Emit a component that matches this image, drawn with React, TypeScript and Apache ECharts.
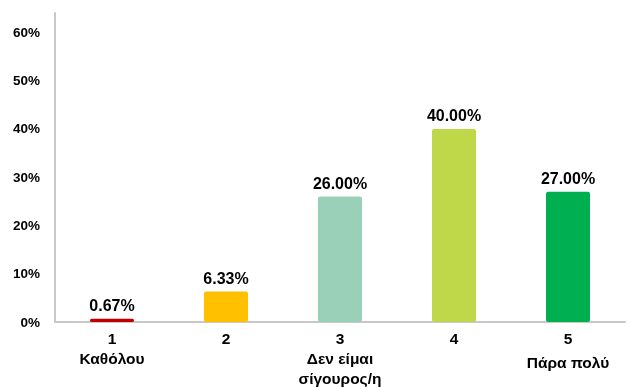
import React, { useEffect, useRef } from "react";
import * as echarts from "echarts";

const categories = ["1\nΚαθόλου", "2", "3\nΔεν είμαι\nσίγουρος/η", "4", "5\nΠάρα πολύ"];
const values = [0.0067, 0.0633, 0.26, 0.4, 0.27];
const barColors = ["#C00000", "#FFC000", "#9BD0B8", "#BFD84A", "#00B050"];
const yTicks = [0, 0.1, 0.2, 0.3, 0.4, 0.5, 0.6];

export default function App() {
  const ref = useRef<HTMLDivElement>(null);
  useEffect(() => {
    if (!ref.current) return;
    const chart = echarts.init(ref.current, undefined, { renderer: "svg" });
    const font = "Arial, 'Liberation Sans', sans-serif";
    chart.setOption({
      animation: false,
      grid: { left: 55, right: 3, top: 13, bottom: 65, outerBoundsMode: "none", containLabel: false },
      xAxis: {
        type: "category",
        data: categories,
        axisLine: { lineStyle: { color: "#C8C8C8", width: 2 } },
        axisTick: { show: false },
        axisLabel: {
          color: "#000",
          fontFamily: font,
          fontWeight: "bold",
          fontSize: 15.5,
          lineHeight: 20,
          margin: 6,
          interval: 0,
          formatter: (v: string) => {
            const parts = v.split("\n");
            if (parts.length === 2 && parts[0] === "5") return "{a|" + parts[0] + "}\n{b|" + parts[1] + "}";
            return v;
          },
          rich: {
            a: { fontFamily: font, fontWeight: "bold", fontSize: 15.5, lineHeight: 20, color: "#000" },
            b: { fontFamily: font, fontWeight: "bold", fontSize: 15.5, lineHeight: 28, color: "#000" },
          },
        },
      },
      yAxis: {
        type: "value",
        min: 0,
        max: 0.64,
        interval: 0.1,
        splitLine: { show: false },
        axisLine: { show: true, lineStyle: { color: "#C8C8C8", width: 2 } },
        axisTick: { show: false },
        axisLabel: {
          color: "#000",
          fontFamily: font,
          fontWeight: "bold",
          fontSize: 13.5,
          margin: 15,
          showMaxLabel: false,
          formatter: (v: number) => {
            const match = yTicks.find((t) => Math.abs(t - v) < 1e-6);
            return match === undefined ? "" : Math.round(match * 100) + "%";
          },
        },
      },
      series: [
        {
          type: "bar",
          barWidth: 44,
          data: values.map((v, i) => ({ value: v, itemStyle: { color: barColors[i], borderRadius: 2 } })),
          label: {
            show: true,
            position: "top",
            distance: 5,
            color: "#000",
            fontFamily: font,
            fontWeight: "bold",
            fontSize: 16,
            formatter: (p: any) => (p.value * 100).toFixed(2) + "%",
          },
        },
      ],
    });
    return () => chart.dispose();
  }, []);
  return <div ref={ref} style={{ width: 628, height: 387, position: "fixed", left: 0, top: 0 }} />;
}
